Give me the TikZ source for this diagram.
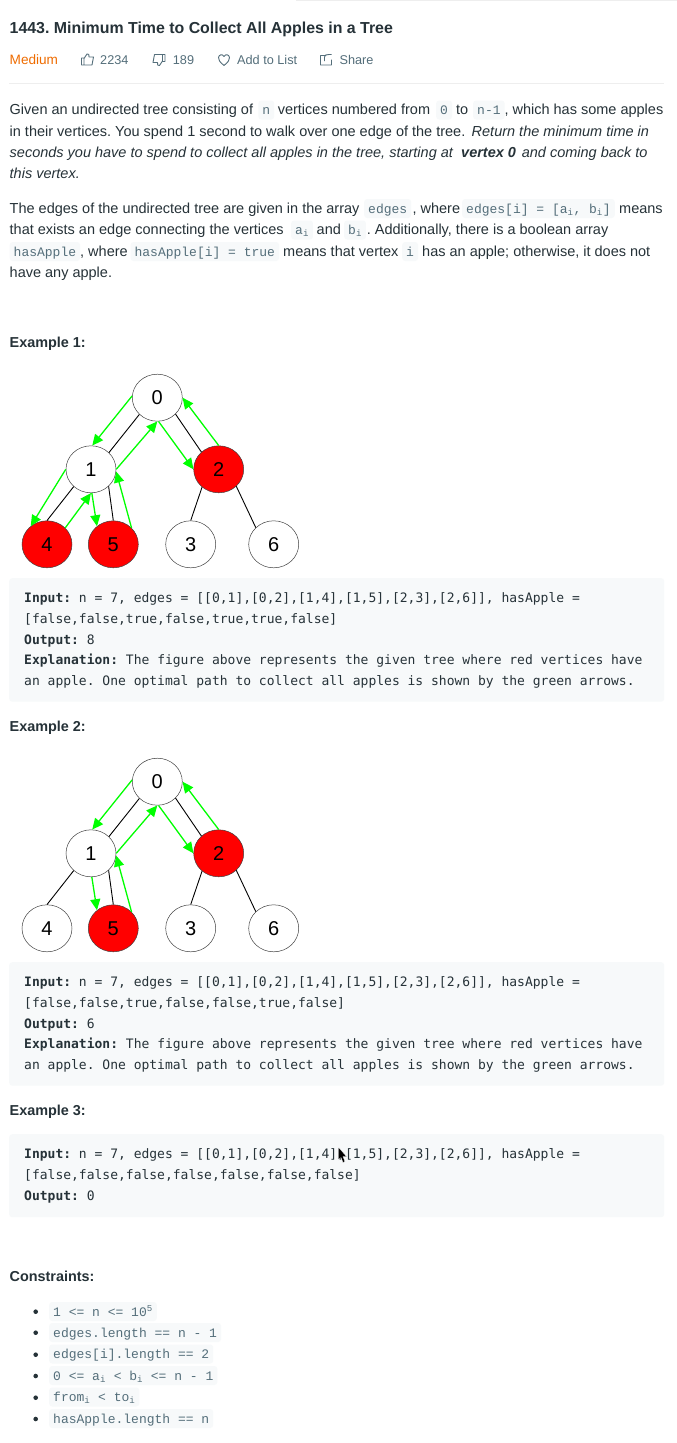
\documentclass[tikz,border=0pt]{standalone}
\usepackage{fontspec}
\setmainfont{Liberation Sans}
\setmonofont{Liberation Mono}
\newfontfamily\blockfont{DejaVu Sans Mono}
\usetikzlibrary{arrows.meta, shapes.geometric}
\frenchspacing
\definecolor{inktext}{RGB}{38,50,56}
\definecolor{chiptext}{RGB}{84,110,122}
\definecolor{panelgray}{RGB}{247,249,250}
\definecolor{rulegray}{RGB}{238,238,238}
\definecolor{mediumorange}{RGB}{239,108,0}
\definecolor{pathgreen}{RGB}{0,255,0}
\tikzset{
  bodytext/.style={anchor=base west, inner sep=0pt, text=inktext, font=\fontsize{14.5}{16}\selectfont},
  slanted/.style={bodytext, font=\fontsize{14.5}{16}\selectfont\itshape},
  strong/.style={bodytext, font=\fontsize{14.4}{16}\selectfont\bfseries},
  metatext/.style={bodytext, text=chiptext, font=\fontsize{12.7}{15}\selectfont},
  chip/.style={anchor=base west, fill=panelgray, rounded corners=3pt, text=chiptext, inner ysep=0pt, inner xsep=4pt,
    text height=14pt, text depth=5pt, font=\ttfamily\fontsize{13}{16}\selectfont},
  panel/.style={fill=panelgray, rounded corners=3pt, inner sep=0pt, anchor=north west, minimum width=655pt},
  blocktext/.style={anchor=base west, inner sep=0pt, text=inktext, font=\blockfont\fontsize{13}{15}\selectfont},
  vertex/.style={ellipse, draw=black!75, line width=0.5pt, fill=white, minimum width=50pt, minimum height=47pt, inner sep=0pt,
    text=black, font=\fontsize{20}{22}\selectfont},
  apple/.style={vertex, fill=red},
  edge/.style={draw=black, line width=0.9pt},
  walk/.style={draw=pathgreen, line width=1.3pt, -{Triangle[length=11pt,width=10pt,fill=pathgreen]}},
  icon/.style={draw=chiptext, line width=0.9pt, line join=round},
  dot/.style={circle, fill=inktext, minimum size=4.6pt, inner sep=0pt},
}
\begin{document}
\begin{tikzpicture}[x=1pt, y=-1pt]
  \useasboundingbox (0,0) rectangle (677,1443);
  \fill[white] (0,0) rectangle (677,1443);
  \draw[rulegray, line width=1pt] (296,0.3) -- (677,0.3);

  % heading
  \node[bodytext, font=\fontsize{15.9}{18}\selectfont\bfseries] (title) at (9.5,33) {1443. Minimum Time to Collect All Apples in a Tree};
  \node[metatext, text=mediumorange, font=\fontsize{13.6}{15}\selectfont] (level) at (9.5,64) {Medium};
  \node[metatext] (likes) at (100,64) {2234};
  \node[metatext] (dislikes) at (172.7,64) {189};
  \node[metatext] (addlist) at (237,64) {Add to List};
  \node[metatext] (share) at (339.4,64) {Share};
  % icons
  \draw[icon] (81.5,58) rectangle (84,65) (84,58.5) -- (87,54) .. controls (88.5,53.5) and (89.5,54.5) .. (89,57) -- (93.5,57) -- (92,65) -- (84,65);
  \draw[icon] (165,61.5) rectangle (162.5,54.5) (162.5,61) -- (159.5,65.5) .. controls (158,66) and (157,65) .. (157.5,62.5) -- (153,62.5) -- (154.5,54.5) -- (162.5,54.5);
  \draw[icon] (224,65.5) .. controls (220,62) and (218,60) .. (218.5,57.5) .. controls (219,54.5) and (222.5,53.5) .. (224,56.5)
    .. controls (225.5,53.5) and (229,54.5) .. (229.5,57.5) .. controls (230,60) and (228,62) .. (224,65.5) -- cycle;
  \draw[icon] (326,55.5) -- (320.5,55.5) -- (320.5,65) -- (331.5,65) -- (331.5,59.5) (324.5,61) -- (324.5,57) .. controls (324.5,55) and (326,54.5) .. (329,54.5) -- (331.5,54.5);
  \draw[rulegray, line width=1pt] (9,83) -- (664,83);

  % first paragraph
  \node[bodytext] (p1a) at (9.5,114.5) {Given an undirected tree consisting of};
  \node[chip] (p1b) at (258.2,114.5) {n};
  \node[bodytext] (p1c) at (277.6,114.5) {vertices numbered from};
  \node[chip] (p1d) at (436,114.5) {0};
  \node[bodytext] (p1e) at (456,114.5) {to};
  \node[chip] (p1f) at (473,114.5) {n-1};
  \node[bodytext] (p1g) at (504.3,114.5) {, which has some apples};
  \node[bodytext] (p2a) at (9.5,136) {in their vertices. You spend 1 second to walk over one edge of the tree.};
  \node[slanted] (p2b) at (471.5,136) {Return the minimum time in};
  \node[slanted] (p3a) at (9.5,157) {seconds you have to spend to collect all apples in the tree, starting at};
  \node[bodytext, font=\fontsize{14.5}{16}\selectfont\bfseries\itshape] (p3b) at (461,157) {vertex 0};
  \node[slanted] (p3c) at (521.6,157) {and coming back to};
  \node[slanted] (p4a) at (9.5,178) {this vertex.};

  % second paragraph
  \node[bodytext] (q1a) at (9.5,213) {The edges of the undirected tree are given in the array};
  \node[chip] (q1b) at (364,213) {edges};
  \node[bodytext] (q1c) at (412.4,213) {, where};
  \node[chip] (q1d) at (462,213) {edges[i] = [a\textsubscript{i}, b\textsubscript{i}]};
  \node[bodytext] (q1e) at (619,213) {means};
  \node[bodytext] (q2a) at (9.5,234.5) {that exists an edge connecting the vertices};
  \node[chip] (q2b) at (291,234.5) {a\textsubscript{i}};
  \node[bodytext] (q2c) at (316.5,234.5) {and};
  \node[chip] (q2d) at (344,234.5) {b\textsubscript{i}};
  \node[bodytext] (q2e) at (366.6,234.5) {. Additionally, there is a boolean array};
  \node[chip] (q3a) at (9.5,256) {hasApple};
  \node[bodytext] (q3b) at (80,256) {, where};
  \node[chip] (q3c) at (130.4,256) {hasApple[i] = true};
  \node[bodytext] (q3d) at (283,256) {means that vertex};
  \node[chip] (q3e) at (402,256) {i};
  \node[bodytext] (q3f) at (422,256) {has an apple; otherwise, it does not};
  \node[bodytext] (q4a) at (9.5,277) {have any apple.};

  % example 1
  \node[strong] (ex1) at (9.5,347) {Example 1:};
  \node[vertex] (a0) at (157.3,397.7) {0};
  \node[vertex] (a1) at (91,469.3) {1};
  \node[apple] (a2) at (218.7,469.3) {2};
  \node[apple] (a4) at (47,544.3) {4};
  \node[apple] (a5) at (113.3,544.3) {5};
  \node[vertex] (a3) at (190.7,544.3) {3};
  \node[vertex] (a6) at (273.7,544.3) {6};
  \draw[edge] (a0.223) -- (a1.43);
  \draw[edge] (a0.-42) -- (a2.135);
  \draw[edge] (a1.-135) -- (a4.north);
  \draw[edge] (a1.-44) -- (a5.north);
  \draw[edge] (a2.-133) -- (a3.north);
  \draw[edge] (a2.-44) -- (a6.137);
  \draw[walk] (a0.176) -- (a1.87);
  \draw[walk] (a1.east) -- (a0.south);
  \draw[walk] (a0.-87) -- (a2.west);
  \draw[walk] (a2.north) -- (a0.east);
  \draw[walk] (a1.west) -- (a4.132);
  \draw[walk] (a4.42) -- (a1.south);
  \draw[walk] (a1.-88) -- (a5.132);
  \draw[walk] (a5.42) -- (a1.-5);

  \node[panel, minimum height=123.5pt] (box1) at (9,578) {};
  \node[blocktext] (b1a) at (24,602) {\textbf{Input:} n = 7, edges = [[0,1],[0,2],[1,4],[1,5],[2,3],[2,6]], hasApple =};
  \node[blocktext] (b1b) at (24,623) {[false,false,true,false,true,true,false]};
  \node[blocktext] (b1c) at (24,644) {\textbf{Output:} 8};
  \node[blocktext] (b1d) at (24,664.5) {\textbf{Explanation:} The figure above represents the given tree where red vertices have};
  \node[blocktext] (b1e) at (24,685) {an apple. One optimal path to collect all apples is shown by the green arrows.};

  % example 2
  \node[strong] (ex2) at (9.5,731) {Example 2:};
  \node[vertex] (c0) at (157.3,781.7) {0};
  \node[vertex] (c1) at (91,853.3) {1};
  \node[apple] (c2) at (218.7,853.3) {2};
  \node[vertex] (c4) at (47,928.3) {4};
  \node[apple] (c5) at (113.3,928.3) {5};
  \node[vertex] (c3) at (190.7,928.3) {3};
  \node[vertex] (c6) at (273.7,928.3) {6};
  \draw[edge] (c0.223) -- (c1.43);
  \draw[edge] (c0.-42) -- (c2.135);
  \draw[edge] (c1.-135) -- (c4.north);
  \draw[edge] (c1.-44) -- (c5.north);
  \draw[edge] (c2.-133) -- (c3.north);
  \draw[edge] (c2.-44) -- (c6.137);
  \draw[walk] (c0.176) -- (c1.87);
  \draw[walk] (c1.east) -- (c0.south);
  \draw[walk] (c0.-87) -- (c2.west);
  \draw[walk] (c2.north) -- (c0.east);
  \draw[walk] (c1.-88) -- (c5.132);
  \draw[walk] (c5.42) -- (c1.-5);

  \node[panel, minimum height=123.5pt] (box2) at (9,962) {};
  \node[blocktext] (b2a) at (24,986) {\textbf{Input:} n = 7, edges = [[0,1],[0,2],[1,4],[1,5],[2,3],[2,6]], hasApple =};
  \node[blocktext] (b2b) at (24,1007) {[false,false,true,false,false,true,false]};
  \node[blocktext] (b2c) at (24,1028) {\textbf{Output:} 6};
  \node[blocktext] (b2d) at (24,1048.5) {\textbf{Explanation:} The figure above represents the given tree where red vertices have};
  \node[blocktext] (b2e) at (24,1069) {an apple. One optimal path to collect all apples is shown by the green arrows.};

  % example 3
  \node[strong] (ex3) at (9.5,1115) {Example 3:};
  \node[panel, minimum height=83pt] (box3) at (9,1134) {};
  \node[blocktext] (b3a) at (24,1158) {\textbf{Input:} n = 7, edges = [[0,1],[0,2],[1,4],[1,5],[2,3],[2,6]], hasApple =};
  \node[blocktext] (b3b) at (24,1179) {[false,false,false,false,false,false,false]};
  \node[blocktext] (b3c) at (24,1200) {\textbf{Output:} 0};
  % pointer over the block
  \fill[black, draw=white, line width=0.3pt] (338.3,1147) -- (338.3,1160) -- (341,1157.5) -- (343,1162.5) -- (345,1161.5) -- (343,1156.5) -- (346.5,1156.5) -- cycle;

  % constraints
  \node[strong] (limits) at (9.5,1281) {Constraints:};
  \node[dot] (d1) at (35.7,1311.7) {};
  \node[dot] (d2) at (35.7,1332.7) {};
  \node[dot] (d3) at (35.7,1354.7) {};
  \node[dot] (d4) at (35.7,1376) {};
  \node[dot] (d5) at (35.7,1397.7) {};
  \node[dot] (d6) at (35.7,1419) {};
  \node[chip] (l1) at (49,1316) {1 <= n <= 10\textsuperscript{5}};
  \node[chip] (l2) at (49,1337) {edges.length == n - 1};
  \node[chip] (l3) at (49,1358.5) {edges[i].length == 2};
  \node[chip] (l4) at (49,1380) {0 <= a\textsubscript{i} < b\textsubscript{i} <= n - 1};
  \node[chip] (l5) at (49,1401.5) {from\textsubscript{i} < to\textsubscript{i}};
  \node[chip] (l6) at (49,1423) {hasApple.length == n};
\end{tikzpicture}
\end{document}
